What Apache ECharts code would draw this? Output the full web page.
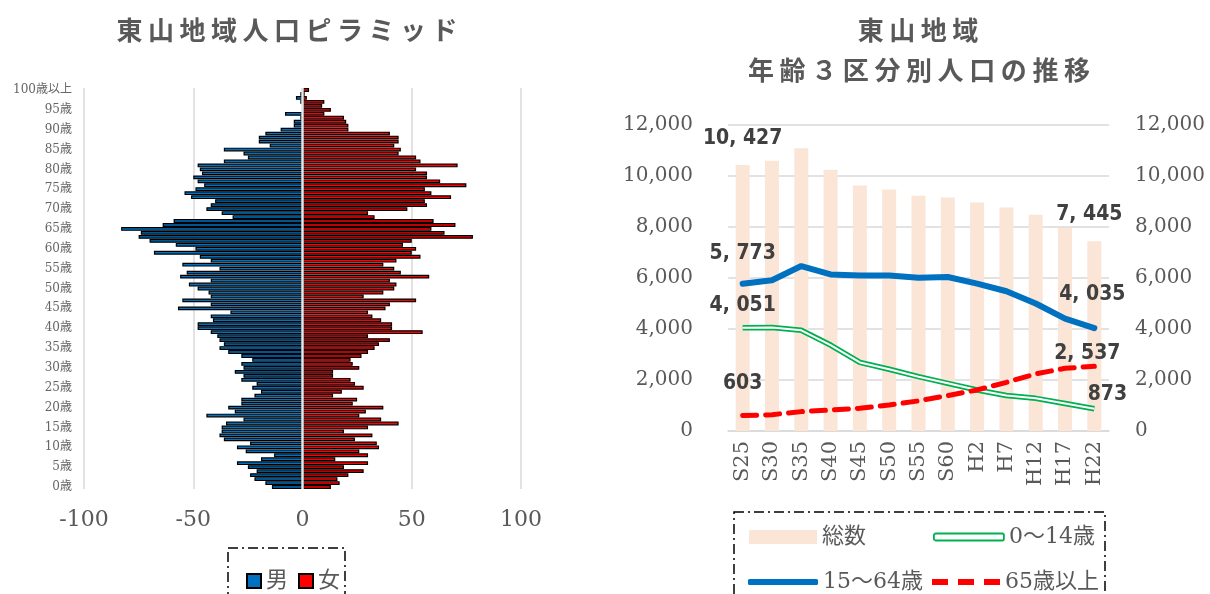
<!DOCTYPE html>
<html>
<head>
<meta charset="utf-8">
<script src="https://cdn.jsdelivr.net/npm/echarts@6/dist/echarts.min.js"></script>
<style>
  html, body { margin: 0; padding: 0; background: #fff; }
  #chart { width: 1210px; height: 594px; }
</style>
</head>
<body>
<div id="chart"></div>
<script>
// ---- 人口ピラミッド（各歳別、0歳〜100歳以上） ----
const maleByAge = [
  14, 17, 22, 24, 21, 25, 30, 19, 13, 26,
  30, 24, 36, 38, 37, 37, 35, 27, 44, 31,
  34, 28, 28, 22, 19, 23, 21, 28, 27, 31,
  27, 28, 23, 28, 34, 38, 36, 38, 39, 42,
  48, 48, 41, 42, 33, 57, 42, 55, 42, 43,
  48, 52, 42, 56, 53, 38, 55, 42, 47, 68,
  49, 58, 70, 75, 74, 83, 64, 59, 32, 37,
  44, 42, 40, 51, 54, 49, 45, 48, 50, 46,
  47, 48, 36, 25, 27, 36, 15, 20, 20, 17,
  10, 4, 4, 1, 8, 0, 0, 1, 3, 1,
  0
];
const femaleByAge = [
  13, 17, 16, 21, 28, 19, 30, 15, 30, 26,
  35, 34, 24, 32, 19, 30, 44, 36, 26, 29,
  37, 23, 25, 14, 18, 28, 24, 22, 14, 14,
  26, 23, 22, 27, 30, 33, 35, 40, 30, 55,
  41, 41, 36, 32, 30, 38, 40, 52, 28, 37,
  42, 43, 40, 58, 45, 42, 37, 43, 54, 50,
  52, 46, 50, 78, 65, 59, 70, 60, 33, 30,
  48, 57, 56, 68, 59, 56, 75, 63, 57, 57,
  52, 71, 54, 52, 44, 45, 42, 44, 44, 40,
  21, 21, 20, 19, 10, 13, 9, 10, 2, 1,
  3
];
const ageLabels = maleByAge.map((_, i) => (i === 100 ? '100歳以上' : i + '歳'));
const pyramidTicks = [-100, -50, 0, 50, 100];

// ---- 年齢3区分別人口の推移 ----
const years = ['S25', 'S30', 'S35', 'S40', 'S45', 'S50', 'S55', 'S60', 'H2', 'H7', 'H12', 'H17', 'H22'];
const totalPop = [10427, 10600, 11090, 10250, 9630, 9470, 9230, 9160, 8960, 8760, 8480, 7960, 7445];
const age0to14 = [4051, 4060, 3950, 3370, 2690, 2420, 2130, 1870, 1610, 1390, 1280, 1080, 873];
const age15to64 = [5773, 5910, 6470, 6140, 6100, 6100, 6010, 6040, 5780, 5480, 5000, 4410, 4035];
const age65over = [603, 640, 760, 820, 890, 1020, 1180, 1390, 1610, 1910, 2240, 2460, 2537];

const GREY = '#595959';
const SERIF = "'DejaVu Serif', 'Noto Sans CJK JP', serif";
const CJK = "'Noto Sans CJK JP', sans-serif";
const NUM = "'Liberation Sans Narrow', 'DejaVu Sans Condensed', 'Liberation Sans', sans-serif";

// 値ラベル「10, 427」形式
function fmt(v) {
  const s = String(Math.round(v));
  return s.length > 3 ? s.slice(0, s.length - 3) + ', ' + s.slice(s.length - 3) : s;
}

// 端点（最初と最後）だけにラベルを付ける
function endLabels(values, first, last) {
  return values.map((v, i) => {
    if (i === 0 && first) return { value: v, label: Object.assign({ show: true }, first) };
    if (i === values.length - 1 && last) return { value: v, label: Object.assign({ show: true }, last) };
    return v;
  });
}

const valLabel = {
  position: 'top',
  formatter: p => fmt(p.value),
  fontFamily: NUM,
  fontWeight: 'bold',
  fontSize: 21,
  color: '#404040'
};
const L = o => Object.assign({}, valLabel, o);

// 字間を広げたタイトル（1文字ずつ配置）
function spacedTitle(text, cx, cy, pitch, size) {
  const chars = Array.from(text);
  const x0 = cx - (chars.length * pitch) / 2 + pitch / 2;
  return {
    type: 'group',
    children: chars.map((ch, i) => ({
      type: 'text',
      x: x0 + i * pitch,
      y: cy,
      style: {
        text: ch,
        fill: GREY,
        font: `bold ${size}px ${CJK}`,
        textAlign: 'center',
        textVerticalAlign: 'middle'
      }
    }))
  };
}

// 凡例用の破線アイコン
const dashIcon = 'path://M0,0h16v6h-16z M26,0h16v6h-16z M52,0h16v6h-16z';

const chart = echarts.init(document.getElementById('chart'), null, { renderer: 'canvas' });

const legendText = { fontFamily: SERIF, fontSize: 22, color: GREY };

chart.setOption({
  animation: false,
  backgroundColor: '#fff',
  graphic: [
    spacedTitle('東山地域人口ピラミッド', 287, 30, 31.5, 26),
    spacedTitle('東山地域', 918, 30, 31.5, 26),
    spacedTitle('年齢３区分別人口の推移', 919, 70, 31.6, 26),
    {
      type: 'rect',
      shape: { x: 228, y: 548, width: 117, height: 80 },
      style: { fill: 'none', stroke: '#000', lineWidth: 1.5, lineDash: [10, 4, 2, 4] }
    },
    {
      type: 'rect',
      shape: { x: 734, y: 512, width: 371, height: 110 },
      style: { fill: 'none', stroke: '#000', lineWidth: 1.5, lineDash: [10, 4, 2, 4] }
    }
  ],
  legend: [
    {
      data: ['男', '女'],
      left: 241, top: 565,
      icon: 'rect', itemWidth: 14, itemHeight: 14, itemGap: 10,
      textStyle: legendText
    },
    {
      data: ['総数'],
      left: 744, top: 521,
      icon: 'rect', itemWidth: 68, itemHeight: 14,
      textStyle: legendText
    },
    {
      data: [{ name: '0〜14歳', icon: 'roundRect', itemStyle: { color: '#fff', borderColor: '#00B050', borderWidth: 1.8 } }],
      left: 928, top: 521,
      itemWidth: 70, itemHeight: 7,
      textStyle: legendText
    },
    {
      data: [{ name: '15〜64歳', icon: 'roundRect', itemStyle: { color: '#0070C0', borderWidth: 0 } }],
      left: 743, top: 566,
      itemWidth: 70, itemHeight: 6,
      textStyle: legendText
    },
    {
      data: [{ name: '65歳以上', icon: dashIcon, itemStyle: { color: '#FF0000', borderWidth: 0 } }],
      left: 927, top: 566,
      itemWidth: 68, itemHeight: 6,
      textStyle: legendText
    }
  ],
  grid: [
    { left: 84, width: 437, top: 88, height: 401, containLabel: false },
    { left: 728, width: 381, top: 125, height: 306, containLabel: false }
  ],
  xAxis: [
    {
      gridIndex: 0,
      type: 'value',
      min: pyramidTicks[0], max: pyramidTicks[pyramidTicks.length - 1], interval: 50,
      axisLine: { show: false }, axisTick: { show: false },
      splitLine: { lineStyle: { color: '#d9d9d9', width: 1.5 } },
      axisLabel: { fontFamily: SERIF, fontSize: 22, color: GREY, margin: 20 }
    },
    {
      gridIndex: 1,
      type: 'category',
      data: years,
      axisLine: { lineStyle: { color: '#d9d9d9', width: 1.5 } },
      axisTick: { show: false },
      axisLabel: { rotate: 90, fontFamily: SERIF, fontSize: 21, color: GREY, margin: 10, interval: 0 }
    }
  ],
  yAxis: [
    {
      gridIndex: 0,
      type: 'category',
      data: ageLabels,
      axisLine: { show: false, onZero: false }, axisTick: { show: false },
      axisLabel: { interval: 4, fontFamily: SERIF, fontSize: 12, color: '#666', margin: 12 }
    },
    {
      gridIndex: 1,
      type: 'value', position: 'left',
      min: 0, max: 12000, interval: 2000,
      axisLine: { show: false }, axisTick: { show: false },
      splitLine: { lineStyle: { color: '#d9d9d9', width: 1.5 } },
      axisLabel: { fontFamily: SERIF, fontSize: 20, color: GREY, margin: 35, formatter: v => v.toLocaleString('en-US') }
    },
    {
      gridIndex: 1,
      type: 'value', position: 'right',
      min: 0, max: 12000, interval: 2000,
      axisLine: { show: false }, axisTick: { show: false },
      splitLine: { show: false },
      axisLabel: { fontFamily: SERIF, fontSize: 20, color: GREY, margin: 26, formatter: v => v.toLocaleString('en-US') }
    }
  ],
  series: [
    {
      name: '男', type: 'bar', xAxisIndex: 0, yAxisIndex: 0, stack: 'pyramid',
      data: maleByAge.map(v => -v),
      barCategoryGap: '4%',
      itemStyle: { color: '#0070C0', borderColor: '#000', borderWidth: 1.2 }
    },
    {
      name: '女', type: 'bar', xAxisIndex: 0, yAxisIndex: 0, stack: 'pyramid',
      data: femaleByAge,
      barCategoryGap: '4%',
      itemStyle: { color: '#FF0000', borderColor: '#000', borderWidth: 1.2 },
      markLine: {
        silent: true, symbol: ['none', 'none'],
        label: { show: false },
        lineStyle: { color: '#e6e6e6', width: 2.5, type: 'solid' },
        data: [{ xAxis: 0 }]
      }
    },
    {
      name: '総数', type: 'bar', xAxisIndex: 1, yAxisIndex: 1,
      barWidth: 14,
      itemStyle: { color: '#FBE5D6' },
      data: endLabels(totalPop, L({ offset: [0, -11] }), L({ offset: [-5, -11] })),
      z: 1
    },
    {
      name: '0〜14歳', type: 'line', xAxisIndex: 1, yAxisIndex: 1,
      symbol: 'circle', symbolSize: 0.01, showSymbol: true,
      lineStyle: { color: '#00B050', width: 5.5 },
      itemStyle: { color: '#00B050' },
      data: endLabels(age0to14, L({ offset: [0, -7] }), null),
      z: 3
    },
    {
      name: '0〜14歳（内線）', type: 'line', xAxisIndex: 1, yAxisIndex: 1,
      symbol: 'none', silent: true,
      lineStyle: { color: '#fff', width: 2 },
      data: age0to14,
      z: 4
    },
    {
      name: '15〜64歳', type: 'line', xAxisIndex: 1, yAxisIndex: 1,
      symbol: 'circle', symbolSize: 0.01, showSymbol: true,
      lineStyle: { color: '#0070C0', width: 6, cap: 'round' },
      itemStyle: { color: '#0070C0' },
      data: endLabels(age15to64, L({ offset: [0, -15] }), L({ offset: [-2, -18] })),
      z: 5
    },
    {
      name: '65歳以上', type: 'line', xAxisIndex: 1, yAxisIndex: 1,
      symbol: 'circle', symbolSize: 0.01, showSymbol: true,
      lineStyle: { color: '#FF0000', width: 5, type: [14, 9], cap: 'round' },
      itemStyle: { color: '#FF0000' },
      data: endLabels(age65over, L({ offset: [0, -17] }), L({ offset: [-7, 3] })),
      z: 6
    },
    {
      // 0〜14歳の最終値ラベル（二重線の上に表示）
      name: '0〜14歳ラベル', type: 'line', xAxisIndex: 1, yAxisIndex: 1,
      symbol: 'circle', symbolSize: 0.01, showSymbol: true, silent: true,
      lineStyle: { width: 0, opacity: 0 },
      itemStyle: { color: '#00B050' },
      data: endLabels(age0to14, null, L({ offset: [13, 1] })),
      z: 7
    }
  ]
});
</script>
</body>
</html>
